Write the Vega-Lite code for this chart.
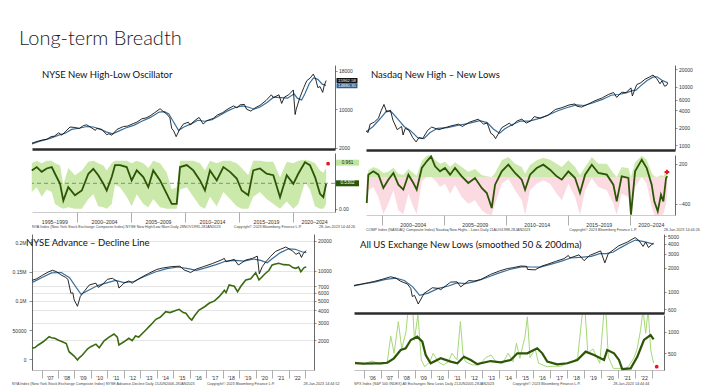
{
"$schema": "https://vega.github.io/schema/vega-lite/v6.json",
"padding": {"left": 12, "top": 29, "right": 0, "bottom": 0},
"background": "white",
"title": {"text": "Long-term Breadth", "anchor": "start", "dx": 7, "offset": 16, "font": "Lato", "fontSize": 20, "fontWeight": 300, "color": "#1a1a1a"},
"config": {
  "view": {"stroke": null},
  "axis": {"labelFont": "Liberation Sans", "labelFontSize": 5, "labelColor": "#333", "tickColor": "#444", "domainColor": "#444", "tickSize": 2, "labelPadding": 1.5, "grid": false, "domainWidth": 0.8, "tickWidth": 0.6, "labelOverlap": false, "labelFlush": false},
  "title": {"font": "Lato", "fontWeight": "normal", "color": "#111"}
},
"datasets": {
"nyse": [{"t":1995.83,"v":2950},{"t":1996.3,"v":3300},{"t":1996.8,"v":3600},{"t":1997.2,"v":3750},{"t":1997.6,"v":4300},{"t":1997.9,"v":4400},{"t":1998.3,"v":5100},{"t":1998.6,"v":4600},{"t":1998.9,"v":5300},{"t":1999.35,"v":6300},{"t":1999.8,"v":6200},{"t":2000.2,"v":6000},{"t":2000.6,"v":6600},{"t":2000.9,"v":6750},{"t":2001.3,"v":6200},{"t":2001.7,"v":5600},{"t":2001.82,"v":6000},{"t":2002.3,"v":5800},{"t":2002.75,"v":4700},{"t":2002.95,"v":4900},{"t":2003.21,"v":4600},{"t":2003.7,"v":5800},{"t":2004.29,"v":6400},{"t":2004.7,"v":6500},{"t":2005.2,"v":7000},{"t":2005.53,"v":7300},{"t":2006.0,"v":8000},{"t":2006.4,"v":8200},{"t":2006.76,"v":8600},{"t":2007.2,"v":9300},{"t":2007.69,"v":10100},{"t":2008.0,"v":9500},{"t":2008.31,"v":9000},{"t":2008.6,"v":8200},{"t":2008.77,"v":6000},{"t":2008.95,"v":5500},{"t":2009.18,"v":4300},{"t":2009.5,"v":5800},{"t":2009.84,"v":6900},{"t":2010.3,"v":7300},{"t":2010.5,"v":6700},{"t":2010.77,"v":7400},{"t":2011.3,"v":8300},{"t":2011.69,"v":6900},{"t":2012.0,"v":7600},{"t":2012.62,"v":8100},{"t":2013.0,"v":8800},{"t":2013.5,"v":9300},{"t":2013.86,"v":9900},{"t":2014.5,"v":10700},{"t":2014.8,"v":10300},{"t":2015.09,"v":10900},{"t":2015.5,"v":11000},{"t":2015.7,"v":10000},{"t":2016.1,"v":9600},{"t":2016.5,"v":10300},{"t":2016.94,"v":10800},{"t":2017.5,"v":11800},{"t":2018.0,"v":13000},{"t":2018.18,"v":12400},{"t":2018.7,"v":13000},{"t":2018.95,"v":11200},{"t":2019.2,"v":12500},{"t":2019.6,"v":13000},{"t":2020.03,"v":14000},{"t":2020.2,"v":8900},{"t":2020.3,"v":10000},{"t":2020.65,"v":12500},{"t":2021.0,"v":14500},{"t":2021.27,"v":15900},{"t":2021.6,"v":16500},{"t":2021.88,"v":17300},{"t":2022.1,"v":16300},{"t":2022.3,"v":14500},{"t":2022.5,"v":14700},{"t":2022.75,"v":13500},{"t":2022.9,"v":15000},{"t":2023.07,"v":15960}],
"nyseMa": [{"t":1995.83,"v":2800},{"t":1996.5,"v":3300},{"t":1997.5,"v":3950},{"t":1998.3,"v":4600},{"t":1998.9,"v":5000},{"t":1999.5,"v":5800},{"t":2000.3,"v":6100},{"t":2000.9,"v":6400},{"t":2001.5,"v":6300},{"t":2002.0,"v":6000},{"t":2002.7,"v":5300},{"t":2003.3,"v":4900},{"t":2003.8,"v":5400},{"t":2004.5,"v":6100},{"t":2005.3,"v":6700},{"t":2006.0,"v":7500},{"t":2006.8,"v":8300},{"t":2007.6,"v":9400},{"t":2008.1,"v":9500},{"t":2008.5,"v":9000},{"t":2008.9,"v":7500},{"t":2009.4,"v":5600},{"t":2009.9,"v":6300},{"t":2010.6,"v":7000},{"t":2011.2,"v":7700},{"t":2011.8,"v":7500},{"t":2012.5,"v":7800},{"t":2013.2,"v":8700},{"t":2013.9,"v":9600},{"t":2014.6,"v":10300},{"t":2015.3,"v":10700},{"t":2015.9,"v":10400},{"t":2016.4,"v":10000},{"t":2016.9,"v":10400},{"t":2017.6,"v":11400},{"t":2018.2,"v":12500},{"t":2018.9,"v":12400},{"t":2019.5,"v":12300},{"t":2020.1,"v":13200},{"t":2020.4,"v":12300},{"t":2020.8,"v":11900},{"t":2021.1,"v":13200},{"t":2021.5,"v":15300},{"t":2021.9,"v":16500},{"t":2022.3,"v":16200},{"t":2022.7,"v":15200},{"t":2023.07,"v":14950}],
"nyseTags": [{"v":15962.58,"lab":"15962.58","k":"a"},{"v":14880,"lab":"14880.35","k":"b"}],
"nyseOsc": [{"t":1995.81,"v":0.80,"lo":0.35,"hi":0.95},{"t":1996.27,"v":0.87,"lo":0.45,"hi":1.0},{"t":1996.73,"v":0.77,"lo":0.25,"hi":0.95},{"t":1997.19,"v":0.84,"lo":0.4,"hi":1.0},{"t":1997.66,"v":0.87,"lo":0.35,"hi":1.0},{"t":1997.96,"v":0.73,"lo":0.1,"hi":0.95},{"t":1998.43,"v":0.52,"lo":0.03,"hi":0.9},{"t":1998.73,"v":0.17,"lo":0.0,"hi":0.5},{"t":1999.19,"v":0.45,"lo":0.03,"hi":0.85},{"t":1999.81,"v":0.28,"lo":0.0,"hi":0.7},{"t":2000.44,"v":0.38,"lo":0.0,"hi":0.8},{"t":2001.05,"v":0.73,"lo":0.2,"hi":0.98},{"t":2001.51,"v":0.83,"lo":0.3,"hi":1.0},{"t":2001.97,"v":0.70,"lo":0.05,"hi":0.95},{"t":2002.44,"v":0.52,"lo":0.03,"hi":0.9},{"t":2002.75,"v":0.38,"lo":0.0,"hi":0.8},{"t":2003.21,"v":0.66,"lo":0.1,"hi":0.95},{"t":2003.52,"v":0.91,"lo":0.5,"hi":1.0},{"t":2003.98,"v":0.91,"lo":0.45,"hi":1.0},{"t":2004.6,"v":0.87,"lo":0.25,"hi":1.0},{"t":2005.06,"v":0.59,"lo":0.05,"hi":0.95},{"t":2005.53,"v":0.80,"lo":0.3,"hi":1.0},{"t":2006.14,"v":0.66,"lo":0.1,"hi":0.95},{"t":2006.6,"v":0.45,"lo":0.03,"hi":0.85},{"t":2007.06,"v":0.80,"lo":0.2,"hi":1.0},{"t":2007.69,"v":0.59,"lo":0.03,"hi":0.95},{"t":2008.31,"v":0.31,"lo":0.0,"hi":0.75},{"t":2008.77,"v":0.10,"lo":0.0,"hi":0.4},{"t":2009.23,"v":0.10,"lo":0.0,"hi":0.45},{"t":2009.54,"v":0.87,"lo":0.4,"hi":1.0},{"t":2010.16,"v":0.91,"lo":0.45,"hi":1.0},{"t":2010.77,"v":0.80,"lo":0.25,"hi":1.0},{"t":2011.39,"v":0.59,"lo":0.05,"hi":0.95},{"t":2011.85,"v":0.38,"lo":0.0,"hi":0.8},{"t":2012.31,"v":0.80,"lo":0.25,"hi":1.0},{"t":2012.94,"v":0.59,"lo":0.05,"hi":0.95},{"t":2013.55,"v":0.87,"lo":0.35,"hi":1.0},{"t":2014.17,"v":0.77,"lo":0.2,"hi":1.0},{"t":2014.79,"v":0.63,"lo":0.05,"hi":0.95},{"t":2015.25,"v":0.38,"lo":0.0,"hi":0.85},{"t":2015.86,"v":0.28,"lo":0.0,"hi":0.7},{"t":2016.32,"v":0.80,"lo":0.25,"hi":1.0},{"t":2016.94,"v":0.84,"lo":0.35,"hi":1.0},{"t":2017.56,"v":0.73,"lo":0.2,"hi":0.98},{"t":2018.18,"v":0.70,"lo":0.1,"hi":0.98},{"t":2018.8,"v":0.24,"lo":0.0,"hi":0.65},{"t":2019.42,"v":0.70,"lo":0.15,"hi":0.98},{"t":2020.03,"v":0.52,"lo":0.0,"hi":0.95},{"t":2020.49,"v":0.73,"lo":0.1,"hi":1.0},{"t":2021.11,"v":0.97,"lo":0.55,"hi":1.02},{"t":2021.57,"v":0.91,"lo":0.4,"hi":1.0},{"t":2022.04,"v":0.66,"lo":0.05,"hi":0.95},{"t":2022.5,"v":0.31,"lo":0.0,"hi":0.8},{"t":2022.81,"v":0.24,"lo":0.0,"hi":0.75},{"t":2023.07,"v":0.52,"lo":0.1,"hi":0.85}],
"nyseDot": [{"t":2023.25,"v":0.94}],
"oscTags": [{"v":0.961,"lab":"0.961","k":"a"},{"v":0.5302,"lab":"0.5302","k":"b"}],
"nasdaq": [{"t":1998.75,"v":1750},{"t":1998.9,"v":1650},{"t":1999.06,"v":2300},{"t":1999.4,"v":2500},{"t":1999.73,"v":2900},{"t":1999.95,"v":3900},{"t":2000.18,"v":5000},{"t":2000.4,"v":3700},{"t":2000.7,"v":4000},{"t":2000.9,"v":2700},{"t":2001.25,"v":1850},{"t":2001.6,"v":2100},{"t":2001.72,"v":1500},{"t":2001.9,"v":1950},{"t":2002.2,"v":1800},{"t":2002.5,"v":1350},{"t":2002.77,"v":1140},{"t":2003.0,"v":1350},{"t":2003.3,"v":1300},{"t":2003.7,"v":1800},{"t":2004.03,"v":2050},{"t":2004.6,"v":1850},{"t":2005.1,"v":2000},{"t":2005.6,"v":2150},{"t":2006.2,"v":2300},{"t":2006.5,"v":2100},{"t":2007.1,"v":2500},{"t":2007.8,"v":2800},{"t":2008.2,"v":2300},{"t":2008.5,"v":2400},{"t":2008.8,"v":1600},{"t":2009.0,"v":1500},{"t":2009.18,"v":1300},{"t":2009.68,"v":2000},{"t":2010.3,"v":2400},{"t":2010.5,"v":2150},{"t":2010.9,"v":2600},{"t":2011.3,"v":2800},{"t":2011.65,"v":2400},{"t":2012.0,"v":2600},{"t":2012.3,"v":3100},{"t":2012.8,"v":2900},{"t":2013.44,"v":3300},{"t":2014.0,"v":4100},{"t":2014.52,"v":4400},{"t":2015.1,"v":4900},{"t":2015.59,"v":5100},{"t":2015.7,"v":4700},{"t":2016.1,"v":4500},{"t":2016.5,"v":4900},{"t":2017.2,"v":5800},{"t":2017.8,"v":6500},{"t":2018.27,"v":7400},{"t":2018.7,"v":8000},{"t":2018.95,"v":6600},{"t":2019.35,"v":8100},{"t":2019.7,"v":8000},{"t":2020.1,"v":9600},{"t":2020.21,"v":7000},{"t":2020.56,"v":10900},{"t":2020.9,"v":11800},{"t":2021.23,"v":13500},{"t":2021.6,"v":14800},{"t":2021.88,"v":16000},{"t":2022.18,"v":13800},{"t":2022.44,"v":11300},{"t":2022.6,"v":12700},{"t":2022.8,"v":10300},{"t":2022.95,"v":10500},{"t":2023.07,"v":11600}],
"nasdaqMa": [{"t":1998.75,"v":1700},{"t":1999.3,"v":2100},{"t":1999.9,"v":2900},{"t":2000.4,"v":3900},{"t":2000.8,"v":3700},{"t":2001.3,"v":2800},{"t":2001.8,"v":2100},{"t":2002.3,"v":1800},{"t":2002.9,"v":1350},{"t":2003.4,"v":1300},{"t":2003.9,"v":1650},{"t":2004.5,"v":1950},{"t":2005.3,"v":2000},{"t":2006.2,"v":2200},{"t":2007.1,"v":2400},{"t":2007.9,"v":2650},{"t":2008.5,"v":2450},{"t":2009.0,"v":1900},{"t":2009.5,"v":1600},{"t":2009.9,"v":1900},{"t":2010.5,"v":2250},{"t":2011.2,"v":2600},{"t":2011.9,"v":2600},{"t":2012.5,"v":2800},{"t":2013.3,"v":3200},{"t":2014.2,"v":3900},{"t":2014.9,"v":4400},{"t":2015.7,"v":4900},{"t":2016.3,"v":4800},{"t":2017.0,"v":5300},{"t":2017.8,"v":6100},{"t":2018.5,"v":7200},{"t":2019.1,"v":7400},{"t":2019.7,"v":7900},{"t":2020.2,"v":8600},{"t":2020.5,"v":8800},{"t":2020.9,"v":10500},{"t":2021.4,"v":12900},{"t":2021.9,"v":14800},{"t":2022.2,"v":14900},{"t":2022.6,"v":13000},{"t":2023.07,"v":11700}],
"nasdaqOsc": [{"t":1998.79,"v":-390,"lo":-560,"hi":0},{"t":1998.92,"v":35,"lo":-200,"hi":100},{"t":1999.32,"v":85,"lo":-150,"hi":150},{"t":1999.73,"v":35,"lo":-300,"hi":120},{"t":2000.13,"v":-165,"lo":-560,"hi":60},{"t":2000.53,"v":-40,"lo":-400,"hi":80},{"t":2000.94,"v":60,"lo":-200,"hi":140},{"t":2001.34,"v":-115,"lo":-500,"hi":50},{"t":2001.74,"v":-190,"lo":-560,"hi":30},{"t":2002.15,"v":35,"lo":-250,"hi":120},{"t":2002.55,"v":-90,"lo":-450,"hi":60},{"t":2002.82,"v":-190,"lo":-560,"hi":20},{"t":2003.23,"v":135,"lo":-60,"hi":240},{"t":2003.63,"v":235,"lo":0,"hi":320},{"t":2003.98,"v":310,"lo":0,"hi":330},{"t":2004.3,"v":160,"lo":-50,"hi":260},{"t":2004.7,"v":85,"lo":-150,"hi":200},{"t":2005.1,"v":135,"lo":-100,"hi":230},{"t":2005.51,"v":35,"lo":-250,"hi":150},{"t":2005.91,"v":135,"lo":-120,"hi":220},{"t":2006.45,"v":10,"lo":-300,"hi":150},{"t":2006.98,"v":-90,"lo":-400,"hi":80},{"t":2007.52,"v":-15,"lo":-350,"hi":120},{"t":2008.06,"v":-165,"lo":-500,"hi":30},{"t":2008.47,"v":-240,"lo":-560,"hi":10},{"t":2008.87,"v":-465,"lo":-570,"hi":0},{"t":2009.14,"v":-115,"lo":-400,"hi":60},{"t":2009.68,"v":85,"lo":-100,"hi":250},{"t":2010.21,"v":185,"lo":-30,"hi":300},{"t":2010.75,"v":60,"lo":-200,"hi":200},{"t":2011.29,"v":-40,"lo":-350,"hi":150},{"t":2011.56,"v":-190,"lo":-570,"hi":50},{"t":2011.96,"v":35,"lo":-200,"hi":180},{"t":2012.5,"v":135,"lo":-100,"hi":250},{"t":2013.03,"v":185,"lo":-50,"hi":290},{"t":2013.57,"v":110,"lo":-100,"hi":260},{"t":2014.11,"v":10,"lo":-250,"hi":200},{"t":2014.52,"v":-40,"lo":-350,"hi":150},{"t":2015.05,"v":85,"lo":-100,"hi":250},{"t":2015.59,"v":-15,"lo":-300,"hi":150},{"t":2015.99,"v":-240,"lo":-570,"hi":30},{"t":2016.4,"v":35,"lo":-200,"hi":150},{"t":2016.94,"v":185,"lo":-20,"hi":300},{"t":2017.47,"v":60,"lo":-150,"hi":200},{"t":2018.15,"v":35,"lo":-200,"hi":200},{"t":2018.68,"v":-115,"lo":-400,"hi":60},{"t":2018.95,"v":-365,"lo":-570,"hi":0},{"t":2019.35,"v":10,"lo":-250,"hi":150},{"t":2019.89,"v":-15,"lo":-300,"hi":130},{"t":2020.1,"v":-565,"lo":-570,"hi":0},{"t":2020.43,"v":85,"lo":-150,"hi":220},{"t":2020.97,"v":260,"lo":0,"hi":320},{"t":2021.37,"v":135,"lo":-100,"hi":260},{"t":2021.77,"v":-115,"lo":-450,"hi":60},{"t":2021.98,"v":-365,"lo":-570,"hi":10},{"t":2022.26,"v":-515,"lo":-570,"hi":0},{"t":2022.52,"v":-265,"lo":-570,"hi":30},{"t":2022.71,"v":-365,"lo":-560,"hi":10},{"t":2022.93,"v":-15,"lo":-400,"hi":100},{"t":2023.03,"v":10,"lo":-200,"hi":80}],
"nasdaqDot": [{"t":2023.0,"v":75}],
"nyaC": [{"t":2006.42,"v":8000},{"t":2006.7,"v":8300},{"t":2007.05,"v":9000},{"t":2007.4,"v":9700},{"t":2007.66,"v":10100},{"t":2007.9,"v":9800},{"t":2008.17,"v":9100},{"t":2008.45,"v":8600},{"t":2008.6,"v":8200},{"t":2008.78,"v":5950},{"t":2008.9,"v":6000},{"t":2008.98,"v":5100},{"t":2009.18,"v":4400},{"t":2009.35,"v":5500},{"t":2009.48,"v":5900},{"t":2009.9,"v":7200},{"t":2010.3,"v":7500},{"t":2010.45,"v":6800},{"t":2010.7,"v":7300},{"t":2011.0,"v":8200},{"t":2011.3,"v":8400},{"t":2011.6,"v":7800},{"t":2011.7,"v":6700},{"t":2012.0,"v":7500},{"t":2012.3,"v":7900},{"t":2012.5,"v":7500},{"t":2012.9,"v":8300},{"t":2013.5,"v":9400},{"t":2014.0,"v":10300},{"t":2014.3,"v":10600},{"t":2014.9,"v":11000},{"t":2015.4,"v":11100},{"t":2015.65,"v":10200},{"t":2016.05,"v":9600},{"t":2016.4,"v":10400},{"t":2016.77,"v":10900},{"t":2017.37,"v":11800},{"t":2017.9,"v":12800},{"t":2018.1,"v":13300},{"t":2018.19,"v":12300},{"t":2018.7,"v":13000},{"t":2018.95,"v":11400},{"t":2019.4,"v":12800},{"t":2019.8,"v":13300},{"t":2020.1,"v":14000},{"t":2020.22,"v":9300},{"t":2020.4,"v":11000},{"t":2020.6,"v":12200},{"t":2020.9,"v":13900},{"t":2021.2,"v":15600},{"t":2021.5,"v":16400},{"t":2021.83,"v":17300},{"t":2022.23,"v":15800},{"t":2022.45,"v":14600},{"t":2022.64,"v":15200},{"t":2022.78,"v":13600},{"t":2022.9,"v":15000},{"t":2023.07,"v":15900}],
"nyaCMa": [{"t":2006.42,"v":7600},{"t":2007.0,"v":8500},{"t":2007.6,"v":9500},{"t":2008.2,"v":9600},{"t":2008.7,"v":8500},{"t":2009.1,"v":6800},{"t":2009.4,"v":5800},{"t":2009.8,"v":6300},{"t":2010.4,"v":7100},{"t":2011.0,"v":7600},{"t":2011.5,"v":8000},{"t":2012.0,"v":7600},{"t":2012.6,"v":7800},{"t":2013.2,"v":8700},{"t":2013.9,"v":9700},{"t":2014.6,"v":10500},{"t":2015.3,"v":10900},{"t":2015.9,"v":10500},{"t":2016.4,"v":10100},{"t":2016.9,"v":10600},{"t":2017.6,"v":11500},{"t":2018.2,"v":12500},{"t":2018.8,"v":12700},{"t":2019.3,"v":12500},{"t":2019.9,"v":13100},{"t":2020.3,"v":12700},{"t":2020.7,"v":12000},{"t":2021.0,"v":13200},{"t":2021.5,"v":15200},{"t":2022.0,"v":16600},{"t":2022.4,"v":16400},{"t":2022.8,"v":15500},{"t":2023.07,"v":15200}],
"adLine": [{"t":2006.42,"v":18800},{"t":2006.6,"v":20000},{"t":2006.8,"v":24500},{"t":2007.1,"v":30000},{"t":2007.46,"v":38700},{"t":2007.6,"v":37000},{"t":2007.8,"v":36000},{"t":2008.0,"v":33000},{"t":2008.26,"v":30100},{"t":2008.5,"v":27000},{"t":2008.67,"v":13000},{"t":2008.98,"v":5600},{"t":2009.18,"v":-1200},{"t":2009.3,"v":3000},{"t":2009.48,"v":7400},{"t":2009.8,"v":18000},{"t":2009.99,"v":21600},{"t":2010.3,"v":26000},{"t":2010.5,"v":19800},{"t":2010.8,"v":31800},{"t":2011.1,"v":38000},{"t":2011.4,"v":43300},{"t":2011.6,"v":38000},{"t":2011.7,"v":24500},{"t":2012.0,"v":30000},{"t":2012.3,"v":36000},{"t":2012.5,"v":32000},{"t":2012.7,"v":40000},{"t":2012.9,"v":38000},{"t":2013.33,"v":50200},{"t":2013.6,"v":58000},{"t":2013.94,"v":68500},{"t":2014.2,"v":72000},{"t":2014.54,"v":81500},{"t":2014.8,"v":80000},{"t":2015.1,"v":83000},{"t":2015.35,"v":85600},{"t":2015.6,"v":80000},{"t":2015.76,"v":78800},{"t":2016.0,"v":70000},{"t":2016.12,"v":67300},{"t":2016.3,"v":75000},{"t":2016.56,"v":84400},{"t":2016.9,"v":90000},{"t":2017.17,"v":95900},{"t":2017.5,"v":100000},{"t":2017.78,"v":107200},{"t":2018.1,"v":118000},{"t":2018.2,"v":114000},{"t":2018.39,"v":127200},{"t":2018.7,"v":125000},{"t":2018.9,"v":115800},{"t":2019.1,"v":125000},{"t":2019.4,"v":135800},{"t":2019.7,"v":138000},{"t":2020.0,"v":148300},{"t":2020.2,"v":135800},{"t":2020.35,"v":140000},{"t":2020.6,"v":147300},{"t":2020.8,"v":152000},{"t":2021.0,"v":161500},{"t":2021.2,"v":163000},{"t":2021.4,"v":164400},{"t":2021.7,"v":162000},{"t":2022.03,"v":161500},{"t":2022.25,"v":157000},{"t":2022.43,"v":155800},{"t":2022.6,"v":158000},{"t":2022.74,"v":150000},{"t":2022.94,"v":157000},{"t":2023.07,"v":158000}],
"spx": [{"t":2005.44,"v":1200},{"t":2005.9,"v":1250},{"t":2006.3,"v":1300},{"t":2006.6,"v":1340},{"t":2007.1,"v":1430},{"t":2007.6,"v":1540},{"t":2007.9,"v":1480},{"t":2008.19,"v":1350},{"t":2008.58,"v":1250},{"t":2008.78,"v":1100},{"t":2008.87,"v":870},{"t":2009.0,"v":900},{"t":2009.22,"v":700},{"t":2009.56,"v":950},{"t":2010.05,"v":1120},{"t":2010.4,"v":1100},{"t":2010.54,"v":1060},{"t":2011.13,"v":1320},{"t":2011.5,"v":1330},{"t":2011.72,"v":1150},{"t":2012.2,"v":1380},{"t":2012.5,"v":1360},{"t":2012.9,"v":1420},{"t":2013.48,"v":1650},{"t":2014.0,"v":1820},{"t":2014.46,"v":1950},{"t":2014.8,"v":2000},{"t":2015.25,"v":2100},{"t":2015.6,"v":2080},{"t":2015.65,"v":1900},{"t":2016.1,"v":1880},{"t":2016.5,"v":2100},{"t":2016.8,"v":2200},{"t":2017.3,"v":2400},{"t":2017.8,"v":2600},{"t":2018.05,"v":2850},{"t":2018.15,"v":2650},{"t":2018.68,"v":2900},{"t":2018.98,"v":2450},{"t":2019.3,"v":2850},{"t":2019.95,"v":3250},{"t":2020.2,"v":2300},{"t":2020.4,"v":3000},{"t":2020.74,"v":3400},{"t":2021.0,"v":3750},{"t":2021.52,"v":4200},{"t":2021.98,"v":4780},{"t":2022.2,"v":4400},{"t":2022.45,"v":3700},{"t":2022.6,"v":4200},{"t":2022.77,"v":3580},{"t":2022.95,"v":3900},{"t":2023.07,"v":4070}],
"spxMa": [{"t":2005.44,"v":1180},{"t":2006.0,"v":1250},{"t":2006.7,"v":1330},{"t":2007.3,"v":1430},{"t":2007.9,"v":1480},{"t":2008.4,"v":1380},{"t":2008.9,"v":1150},{"t":2009.3,"v":900},{"t":2009.8,"v":960},{"t":2010.4,"v":1100},{"t":2011.0,"v":1180},{"t":2011.5,"v":1290},{"t":2012.0,"v":1260},{"t":2012.6,"v":1350},{"t":2013.3,"v":1520},{"t":2013.9,"v":1700},{"t":2014.6,"v":1900},{"t":2015.3,"v":2050},{"t":2015.9,"v":2040},{"t":2016.4,"v":2030},{"t":2017.0,"v":2200},{"t":2017.6,"v":2400},{"t":2018.2,"v":2650},{"t":2018.9,"v":2720},{"t":2019.4,"v":2780},{"t":2019.9,"v":3000},{"t":2020.3,"v":3000},{"t":2020.7,"v":3150},{"t":2021.1,"v":3550},{"t":2021.6,"v":4050},{"t":2022.0,"v":4450},{"t":2022.5,"v":4250},{"t":2023.07,"v":3950}],
"lows200": [{"t":2005.5,"v":270},{"t":2006.0,"v":262},{"t":2006.62,"v":268},{"t":2007.0,"v":265},{"t":2007.4,"v":280},{"t":2007.79,"v":383},{"t":2008.19,"v":575},{"t":2008.48,"v":614},{"t":2008.78,"v":806},{"t":2009.16,"v":882},{"t":2009.46,"v":767},{"t":2009.66,"v":460},{"t":2009.95,"v":268},{"t":2010.54,"v":383},{"t":2011.13,"v":306},{"t":2011.52,"v":268},{"t":2011.91,"v":420},{"t":2012.31,"v":345},{"t":2012.69,"v":250},{"t":2013.48,"v":320},{"t":2014.07,"v":290},{"t":2014.66,"v":345},{"t":2015.05,"v":498},{"t":2015.64,"v":498},{"t":2016.22,"v":614},{"t":2016.52,"v":498},{"t":2016.81,"v":306},{"t":2017.4,"v":245},{"t":2017.99,"v":268},{"t":2018.58,"v":345},{"t":2019.07,"v":537},{"t":2019.56,"v":460},{"t":2020.15,"v":345},{"t":2020.34,"v":575},{"t":2020.74,"v":498},{"t":2021.03,"v":345},{"t":2021.22,"v":136},{"t":2021.72,"v":150},{"t":2022.11,"v":420},{"t":2022.5,"v":806},{"t":2022.89,"v":920},{"t":2023.07,"v":822}],
"lows50": [{"t":2005.5,"v":300},{"t":2006.0,"v":250},{"t":2006.5,"v":320},{"t":2007.0,"v":250},{"t":2007.4,"v":300},{"t":2007.6,"v":900},{"t":2007.8,"v":500},{"t":2008.05,"v":1230},{"t":2008.25,"v":600},{"t":2008.5,"v":1000},{"t":2008.7,"v":1800},{"t":2008.85,"v":1800},{"t":2009.0,"v":800},{"t":2009.2,"v":1400},{"t":2009.4,"v":345},{"t":2009.6,"v":190},{"t":2009.9,"v":300},{"t":2010.1,"v":498},{"t":2010.4,"v":300},{"t":2010.7,"v":230},{"t":2011.0,"v":300},{"t":2011.2,"v":500},{"t":2011.5,"v":350},{"t":2011.7,"v":1230},{"t":2011.85,"v":500},{"t":2012.0,"v":306},{"t":2012.4,"v":230},{"t":2012.8,"v":230},{"t":2013.2,"v":400},{"t":2013.5,"v":460},{"t":2013.8,"v":300},{"t":2014.2,"v":268},{"t":2014.5,"v":500},{"t":2014.8,"v":300},{"t":2015.0,"v":730},{"t":2015.2,"v":383},{"t":2015.5,"v":882},{"t":2015.64,"v":1340},{"t":2015.8,"v":400},{"t":2016.1,"v":600},{"t":2016.3,"v":268},{"t":2016.8,"v":190},{"t":2017.2,"v":200},{"t":2017.6,"v":200},{"t":2018.0,"v":268},{"t":2018.3,"v":300},{"t":2018.6,"v":400},{"t":2018.98,"v":1800},{"t":2019.2,"v":498},{"t":2019.5,"v":600},{"t":2019.9,"v":268},{"t":2020.22,"v":1800},{"t":2020.4,"v":420},{"t":2020.7,"v":150},{"t":2021.0,"v":150},{"t":2021.4,"v":150},{"t":2021.6,"v":200},{"t":2021.9,"v":383},{"t":2022.1,"v":600},{"t":2022.3,"v":1030},{"t":2022.45,"v":1500},{"t":2022.6,"v":960},{"t":2022.75,"v":1500},{"t":2022.9,"v":575},{"t":2023.07,"v":268}],
"lowsDot": [{"t":2023.25,"v":190}]
},
"spacing": 2,
"vconcat": [
 {"spacing": 3, "hconcat": [
  {"spacing": 2, "vconcat": [
   {"width": 303, "height": 84,
    "title": {"text": "NYSE New High-Low Oscillator", "anchor": "start", "frame": "group", "offset": -14, "dx": 10, "fontSize": 9.5},
    "layer": [
     {"data": {"name": "nyseMa"}, "mark": {"type": "line", "color": "#3b6e99", "strokeWidth": 1.2},
      "encoding": {
       "x": {"field": "t", "type": "quantitative", "scale": {"domain": [1995.83, 2023.89], "nice": false, "zero": false}, "axis": {"title": null, "orient": "bottom", "labels": false, "ticks": false, "domainWidth": 2.5, "domainColor": "#2b2b2b"}},
       "y": {"field": "v", "type": "quantitative", "scale": {"domain": [1730, 19190], "nice": false, "zero": false}, "axis": {"title": null, "orient": "right", "values": [2000,4000,6000,8000,10000,12000,14000,16000,18000], "format": "d", "labelOverlap": false}}}},
     {"data": {"name": "nyse"}, "mark": {"type": "line", "color": "#111", "strokeWidth": 0.9},
      "encoding": {"x": {"field": "t", "type": "quantitative"}, "y": {"field": "v", "type": "quantitative"}}},
     {"data": {"name": "nyseTags"}, "mark": {"type": "point", "shape": "M-1,-0.24H1V0.24H-1Z", "size": 441, "filled": true, "opacity": 1},
      "encoding": {"x": {"datum": 2025.0, "type": "quantitative"}, "y": {"field": "v", "type": "quantitative"},
       "color": {"condition": {"test": "datum.k == 'b'", "value": "#2f5f8f"}, "value": "#111"}}},
     {"data": {"name": "nyseTags"}, "mark": {"type": "text", "color": "#ffffff", "fontSize": 4.3, "font": "Liberation Sans"},
      "encoding": {"x": {"datum": 2025.0, "type": "quantitative"}, "y": {"field": "v", "type": "quantitative"}, "text": {"field": "lab"}}}
    ]},
   {"width": 303, "height": 59,
    "title": {"text": "NYA Index (New York Stock Exchange Composite Index) NYSE New High/Low Main  Daily 28NOV1995-28JAN2023\u00a0\u00a0\u00a0\u00a0\u00a0\u00a0\u00a0\u00a0\u00a0\u00a0\u00a0\u00a0\u00a0Copyright\u00a9 2023 Bloomberg Finance L.P.\u00a0\u00a0\u00a0\u00a0\u00a0\u00a0\u00a0\u00a0\u00a0\u00a0\u00a0\u00a0\u00a0\u00a0\u00a0\u00a0\u00a028-Jan-2023 14:44:26", "orient": "bottom", "anchor": "start", "frame": "group", "offset": 1, "font": "Liberation Sans", "fontSize": 3.7, "color": "#444"},
    "resolve": {"axis": {"x": "independent"}},
    "layer": [
     {"data": {"name": "nyseOsc"}, "mark": {"type": "area", "color": "#c4e7a2", "opacity": 0.9},
      "encoding": {
       "x": {"field": "t", "type": "quantitative", "scale": {"domain": [1995.83, 2023.89], "nice": false, "zero": false}, "axis": {"title": null, "orient": "bottom", "values": [2000,2005,2010,2015,2020], "labels": false, "tickSize": 10, "tickColor": "#777", "domainColor": "#aaa", "domainWidth": 0.6}},
       "y": {"field": "lo", "type": "quantitative", "scale": {"domain": [-0.069, 1.163], "nice": false, "zero": false}, "axis": {"title": null, "orient": "right", "values": [0], "format": ".2f"}},
       "y2": {"field": "hi"}}},
     {"data": {"values": [{}]}, "mark": {"type": "rule", "color": "#777", "strokeDash": [4, 3], "strokeWidth": 0.8},
      "encoding": {"y": {"datum": 0.53, "type": "quantitative"}}},
     {"data": {"name": "nyseOsc"}, "mark": {"type": "line", "color": "#2c5506", "strokeWidth": 1.8},
      "encoding": {"x": {"field": "t", "type": "quantitative", "axis": {"title": null, "orient": "bottom", "values": [1997.9,2002.5,2007.5,2012.5,2017.5,2021.95], "ticks": false, "domain": false, "labelExpr": "floor(datum.value/5)*5 + '\u2013' + (floor(datum.value/5)*5 + 4)", "labelOverlap": false, "labelPadding": 7, "labelFontSize": 5.2}}, "y": {"field": "v", "type": "quantitative"}}},
     {"data": {"name": "nyseDot"}, "mark": {"type": "point", "filled": true, "color": "#e8141c", "size": 14, "opacity": 1},
      "encoding": {"x": {"field": "t", "type": "quantitative", "axis": null}, "y": {"field": "v", "type": "quantitative"}}},
     {"data": {"name": "oscTags"}, "mark": {"type": "point", "shape": "M-1,-0.26H1V0.26H-1Z", "size": 529, "filled": true, "opacity": 1},
      "encoding": {"x": {"datum": 2025.05, "type": "quantitative", "axis": null}, "y": {"field": "v", "type": "quantitative"},
       "color": {"condition": {"test": "datum.k == 'b'", "value": "#2c5506"}, "value": "#bfe69c"}}},
     {"data": {"name": "oscTags"}, "mark": {"type": "text", "fontSize": 4.6, "font": "Liberation Sans"},
      "encoding": {"x": {"datum": 2025.05, "type": "quantitative", "axis": null}, "y": {"field": "v", "type": "quantitative"}, "text": {"field": "lab"},
       "color": {"condition": {"test": "datum.k == 'b'", "value": "#ffffff"}, "value": "#1a1a1a"}}}
    ]}
  ]},
  {"spacing": 2, "vconcat": [
   {"width": 309, "height": 85,
    "title": {"text": "Nasdaq New High \u2013 New Lows", "anchor": "start", "frame": "group", "offset": -14, "dx": 5, "fontSize": 9.5},
    "layer": [
     {"data": {"name": "nasdaqMa"}, "mark": {"type": "line", "color": "#3b6e99", "strokeWidth": 1.2},
      "encoding": {
       "x": {"field": "t", "type": "quantitative", "scale": {"domain": [1998.73, 2023.65], "nice": false, "zero": false}, "axis": {"title": null, "orient": "bottom", "labels": false, "ticks": false, "domainWidth": 2.5, "domainColor": "#2b2b2b"}},
       "y": {"field": "v", "type": "quantitative", "scale": {"type": "log", "domain": [830, 23700], "nice": false}, "axis": {"title": null, "orient": "right", "values": [1000,2000,4000,6000,10000,20000], "format": "d", "labelOverlap": false}}}},
     {"data": {"name": "nasdaq"}, "mark": {"type": "line", "color": "#111", "strokeWidth": 0.9},
      "encoding": {"x": {"field": "t", "type": "quantitative"}, "y": {"field": "v", "type": "quantitative"}}}
    ]},
   {"width": 309, "height": 60,
    "title": {"text": "COMP Index (NASDAQ Composite Index) Nasdaq New Highs - Lows  Daily 21AUG1998-28JAN2023\u00a0\u00a0\u00a0\u00a0\u00a0\u00a0\u00a0\u00a0\u00a0\u00a0\u00a0\u00a0\u00a0\u00a0\u00a0\u00a0\u00a0\u00a0\u00a0\u00a0\u00a0\u00a0\u00a0\u00a0\u00a0\u00a0\u00a0\u00a0\u00a0\u00a0\u00a0\u00a0\u00a0\u00a0\u00a0\u00a0\u00a0\u00a0Copyright\u00a9 2023 Bloomberg Finance L.P.\u00a0\u00a0\u00a0\u00a0\u00a0\u00a0\u00a0\u00a0\u00a0\u00a0\u00a0\u00a0\u00a0\u00a0\u00a0\u00a0\u00a0\u00a0\u00a0\u00a0\u00a0\u00a0\u00a0\u00a0\u00a0\u00a028-Jan-2023 14:44:26", "orient": "bottom", "anchor": "start", "frame": "group", "offset": 1, "font": "Liberation Sans", "fontSize": 3.7, "color": "#444"},
    "resolve": {"axis": {"x": "independent"}},
    "layer": [
     {"data": {"name": "nasdaqOsc"}, "mark": {"type": "area", "color": "#c6e8a4", "opacity": 0.9},
      "encoding": {
       "x": {"field": "t", "type": "quantitative", "scale": {"domain": [1998.73, 2023.65], "nice": false, "zero": false}, "axis": {"title": null, "orient": "bottom", "values": [2000,2005,2010,2015,2020], "labels": false, "tickSize": 10, "tickColor": "#777", "domainColor": "#aaa", "domainWidth": 0.6}},
       "y": {"field": "hi", "type": "quantitative", "scale": {"domain": [-570, 330], "nice": false, "zero": false}, "axis": {"title": null, "orient": "right", "values": [-400,-200,0,200], "format": "d", "labelOverlap": false}},
       "y2": {"datum": 0}}},
     {"data": {"name": "nasdaqOsc"}, "mark": {"type": "area", "color": "#f7b8c4", "opacity": 0.5},
      "encoding": {"x": {"field": "t", "type": "quantitative", "axis": null}, "y": {"field": "lo", "type": "quantitative"}, "y2": {"datum": 0}}},
     {"data": {"name": "nasdaqOsc"}, "mark": {"type": "line", "color": "#2c5506", "strokeWidth": 1.8},
      "encoding": {"x": {"field": "t", "type": "quantitative", "axis": {"title": null, "orient": "bottom", "values": [2002.5,2007.5,2012.5,2017.5,2021.7], "ticks": false, "domain": false, "labelExpr": "floor(datum.value/5)*5 + '\u2013' + (floor(datum.value/5)*5 + 4)", "labelOverlap": false, "labelPadding": 7, "labelFontSize": 5.2}}, "y": {"field": "v", "type": "quantitative"}}},
     {"data": {"name": "nasdaqDot"}, "mark": {"type": "point", "shape": "cross", "filled": true, "color": "#e8141c", "size": 22, "opacity": 1},
      "encoding": {"x": {"field": "t", "type": "quantitative", "axis": null}, "y": {"field": "v", "type": "quantitative"}}}
    ]}
  ]}
 ]},
 {"spacing": 8, "hconcat": [
  {"title": {"text": "NYA Index (New York Stock Exchange Composite Index) NYSE Advance-Decline  Daily 15JUN2006-28JAN2023\u00a0\u00a0\u00a0\u00a0\u00a0\u00a0\u00a0\u00a0\u00a0\u00a0\u00a0\u00a0Copyright\u00a9 2023 Bloomberg Finance L.P.\u00a0\u00a0\u00a0\u00a0\u00a0\u00a0\u00a0\u00a0\u00a0\u00a0\u00a0\u00a0\u00a0\u00a0\u00a0\u00a0\u00a0\u00a0\u00a0\u00a0\u00a0\u00a0\u00a0\u00a0\u00a0\u00a0\u00a0\u00a028-Jan-2023 14:44:52", "orient": "bottom", "anchor": "start", "frame": "bounds", "offset": 1, "font": "Liberation Sans", "fontSize": 3.7, "color": "#444"},
   "vconcat": [
   {"width": 282, "height": 136,
    "title": {"text": "NYSE Advance \u2013 Decline Line", "anchor": "start", "frame": "group", "offset": -13, "dx": -6, "fontSize": 9.5},
    "resolve": {"scale": {"y": "independent"}, "axis": {"x": "independent"}},
    "layer": [
     {"data": {"name": "nyaCMa"}, "mark": {"type": "line", "color": "#3b6e99", "strokeWidth": 1.2},
      "encoding": {
       "x": {"field": "t", "type": "quantitative", "scale": {"domain": [2006.42, 2023.54], "nice": false, "zero": false}, "axis": {"title": null, "orient": "bottom", "values": [2007,2008,2009,2010,2011,2012,2013,2014,2015,2016,2017,2018,2019,2020,2021,2022,2023], "labels": false, "tickSize": 8, "tickColor": "#777", "domainColor": "#999", "domainWidth": 0.6}},
       "y": {"field": "v", "type": "quantitative", "scale": {"type": "log", "domain": [1010, 23350], "nice": false}, "axis": {"title": null, "orient": "right", "values": [2000,3000,4000,5000,6000,7000,10000,20000], "format": "d", "labelOverlap": false, "grid": true, "gridColor": "#d4d4d4", "gridWidth": 0.6}}}},
     {"data": {"name": "nyaC"}, "mark": {"type": "line", "color": "#111", "strokeWidth": 0.9},
      "encoding": {"x": {"field": "t", "type": "quantitative", "axis": null}, "y": {"field": "v", "type": "quantitative", "scale": {"type": "log", "domain": [1010, 23350], "nice": false}, "axis": null}}},
     {"data": {"name": "adLine"}, "mark": {"type": "line", "color": "#3a6a10", "strokeWidth": 1.6},
      "encoding": {
       "x": {"field": "t", "type": "quantitative", "axis": {"title": null, "orient": "bottom", "values": [2007.5,2008.5,2009.5,2010.5,2011.5,2012.5,2013.5,2014.5,2015.5,2016.5,2017.5,2018.5,2019.5,2020.5,2021.5,2022.5], "ticks": false, "domain": false, "labelExpr": "\"'\" + format(floor(datum.value) % 100, '02d')", "labelOverlap": false, "labelPadding": 5.5, "labelFontSize": 5.2}},
       "y": {"field": "v", "type": "quantitative", "scale": {"domain": [-18300, 214500], "nice": false, "zero": false}, "axis": {"title": null, "orient": "left", "values": [0,50000,100000,150000,200000], "labelExpr": "datum.value == 0 ? '0' : datum.value == 50000 ? '50000' : (datum.value/1000000) + 'M'", "labelOverlap": false, "tickSize": 3, "labelPadding": 3}}}}
    ]}
  ]},
  {"spacing": 2, "vconcat": [
   {"width": 310, "height": 79,
    "title": {"text": "All US Exchange New Lows (smoothed 50 & 200dma)", "anchor": "start", "frame": "group", "offset": -15, "dx": 6, "fontSize": 9.5},
    "layer": [
     {"data": {"name": "spxMa"}, "mark": {"type": "line", "color": "#3b6e99", "strokeWidth": 1.2},
      "encoding": {
       "x": {"field": "t", "type": "quantitative", "scale": {"domain": [2005.44, 2023.68], "nice": false, "zero": false}, "axis": {"title": null, "orient": "bottom", "labels": false, "ticks": false, "domainWidth": 2.5, "domainColor": "#2b2b2b"}},
       "y": {"field": "v", "type": "quantitative", "scale": {"type": "log", "domain": [540, 5300], "nice": false}, "axis": {"title": null, "orient": "right", "values": [600,1000,2000,3000,4000,5000], "format": "d", "labelOverlap": false}}}},
     {"data": {"name": "spx"}, "mark": {"type": "line", "color": "#111", "strokeWidth": 0.9},
      "encoding": {"x": {"field": "t", "type": "quantitative"}, "y": {"field": "v", "type": "quantitative"}}}
    ]},
   {"width": 310, "height": 55,
    "title": {"text": "SPX Index (S&P 500 INDEX) All Exchanges New Lows  Daily 21JUN2005-28JAN2023\u00a0\u00a0\u00a0\u00a0\u00a0\u00a0\u00a0\u00a0\u00a0\u00a0\u00a0\u00a0\u00a0\u00a0\u00a0\u00a0\u00a0\u00a0Copyright\u00a9 2023 Bloomberg Finance L.P.\u00a0\u00a0\u00a0\u00a0\u00a0\u00a0\u00a0\u00a0\u00a0\u00a0\u00a0\u00a0\u00a0\u00a0\u00a0\u00a0\u00a0\u00a0\u00a0\u00a0\u00a0\u00a0\u00a0\u00a0\u00a0\u00a0\u00a0\u00a0\u00a0\u00a0\u00a0\u00a028-Jan-2023 14:44:44", "orient": "bottom", "anchor": "start", "frame": "group", "offset": 1, "font": "Liberation Sans", "fontSize": 3.7, "color": "#444"},
    "resolve": {"axis": {"x": "independent"}},
    "layer": [
     {"data": {"name": "lows50"}, "mark": {"type": "line", "color": "#a5d877", "strokeWidth": 1, "clip": true},
      "encoding": {
       "x": {"field": "t", "type": "quantitative", "scale": {"domain": [2005.44, 2023.68], "nice": false, "zero": false}, "axis": {"title": null, "orient": "bottom", "values": [2006,2007,2008,2009,2010,2011,2012,2013,2014,2015,2016,2017,2018,2019,2020,2021,2022,2023], "labels": false, "tickSize": 8, "tickColor": "#777", "domainColor": "#999", "domainWidth": 0.6}},
       "y": {"field": "v", "type": "quantitative", "scale": {"domain": [113, 1383], "nice": false, "zero": false}, "axis": {"title": null, "orient": "right", "values": [500, 1000], "format": "d", "labelOverlap": false}}}},
     {"data": {"name": "lows200"}, "mark": {"type": "line", "color": "#2c5506", "strokeWidth": 2.2},
      "encoding": {"x": {"field": "t", "type": "quantitative", "axis": {"title": null, "orient": "bottom", "values": [2006.5,2007.5,2008.5,2009.5,2010.5,2011.5,2012.5,2013.5,2014.5,2015.5,2016.5,2017.5,2018.5,2019.5,2020.5,2021.5,2022.5], "ticks": false, "domain": false, "labelExpr": "\"'\" + format(floor(datum.value) % 100, '02d')", "labelOverlap": false, "labelPadding": 5.5, "labelFontSize": 5.2}}, "y": {"field": "v", "type": "quantitative"}}},
     {"data": {"name": "lowsDot"}, "mark": {"type": "point", "filled": true, "color": "#e8141c", "size": 14, "opacity": 1},
      "encoding": {"x": {"field": "t", "type": "quantitative", "axis": null}, "y": {"field": "v", "type": "quantitative"}}}
    ]}
  ]}
 ]}
]
}
